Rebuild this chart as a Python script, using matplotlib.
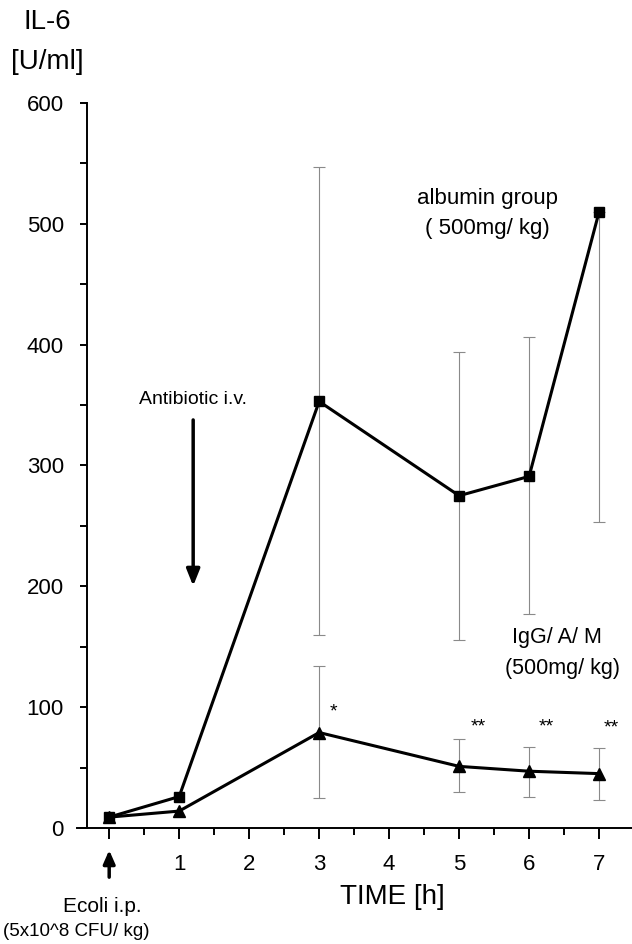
import numpy as np
from matplotlib import pyplot as plt
from matplotlib.ticker import MultipleLocator, FixedLocator

plt.rcParams['font.family'] = ['Liberation Sans', 'DejaVu Sans']

# data
hours = [0, 1, 3, 5, 6, 7]
albumin = [9, 26, 353, 275, 291, 510]
albumin_lo = [0, 0, 160, 156, 177, 253]
albumin_hi = [0, 0, 547, 394, 406, 510]
igg = [9, 14, 79, 51, 47, 45]
igg_lo = [0, 0, 25, 30, 26, 23]
igg_hi = [0, 0, 134, 74, 67, 66]
star_x = [3.2, 5.28, 6.25, 7.17]
star_y = [96, 84, 84, 83]
star_txt = ['*', '**', '**', '**']
xticks = [0, 1, 2, 3, 4, 5, 6, 7]
xticklabels = ['', '1', '2', '3', '4', '5', '6', '7']

fig = plt.figure(figsize=(6.32, 9.44), dpi=100)
ax = fig.add_axes([77/632, 1-828/944, 555/632, 725/944])

def errs(v, lo, hi):
    return [np.array(v) - np.array(lo), np.array(hi) - np.array(v)]

ax.errorbar(hours[2:], albumin[2:], yerr=[e[2:] for e in errs(albumin, albumin_lo, albumin_hi)],
            fmt='none', ecolor='#8a8a8a', elinewidth=0.8, capsize=4, capthick=0.8)
ax.errorbar(hours[2:], igg[2:], yerr=[e[2:] for e in errs(igg, igg_lo, igg_hi)],
            fmt='none', ecolor='#8a8a8a', elinewidth=0.8, capsize=4, capthick=0.8)
ax.plot(hours, albumin, 'k-', lw=2.2, marker='s', ms=7.5, zorder=3)
ax.plot(hours, igg, 'k-', lw=2.2, marker='^', ms=8, zorder=3)

for x, y, s in zip(star_x, star_y, star_txt):
    ax.text(x, y, s, ha='center', va='center', fontsize=14)

ax.text(5.4, 521, 'albumin group', ha='center', va='center', fontsize=16)
ax.text(5.4, 496, '( 500mg/ kg)', ha='center', va='center', fontsize=16)
ax.text(6.4, 158, 'IgG/ A/ M', ha='center', va='center', fontsize=15.5)
ax.text(6.48, 132, '(500mg/ kg)', ha='center', va='center', fontsize=15.5)
ax.text(1.2, 355, 'Antibiotic i.v.', ha='center', va='center', fontsize=14)
ax.annotate('', xy=(1.2, 198), xytext=(1.2, 340),
            arrowprops=dict(arrowstyle='-|>,head_length=1.0,head_width=0.4', color='k', lw=2.5))
ax.annotate('', xy=(0, -16), xytext=(0, -43), annotation_clip=False,
            arrowprops=dict(arrowstyle='-|>,head_length=0.8,head_width=0.35', color='k', lw=2.5))

ax.set_xlim(-0.46, 7.47)
ax.set_ylim(0, 600)
ax.spines['right'].set_visible(False)
ax.spines['top'].set_visible(False)
ax.spines['left'].set_position(('data', -0.31))
ax.spines['bottom'].set_position(('data', 0))
ax.spines['left'].set_linewidth(1.4)
ax.spines['bottom'].set_linewidth(1.4)

ax.xaxis.set_major_locator(FixedLocator(xticks))
ax.set_xticklabels(xticklabels)
ax.xaxis.set_minor_locator(FixedLocator(np.arange(0.5, 7, 1.0)))
ax.yaxis.set_major_locator(MultipleLocator(100))
ax.yaxis.set_minor_locator(MultipleLocator(50))
ax.tick_params(axis='x', which='major', length=8, width=1.4, pad=11, labelsize=16)
ax.tick_params(axis='x', which='minor', length=5, width=1.4)
ax.tick_params(axis='y', which='both', length=5, width=1.4, pad=12, labelsize=16)

fig.text(47/632, 1-22/944, 'IL-6', ha='center', va='center', fontsize=20)
fig.text(47/632, 1-62/944, '[U/ml]', ha='center', va='center', fontsize=20)
fig.text(392/632, 1-897/944, 'TIME [h]', ha='center', va='center', fontsize=20)
fig.text(102/632, 1-906/944, 'Ecoli i.p.', ha='center', va='center', fontsize=15)
fig.text(76/632, 1-932/944, '(5x10^8 CFU/ kg)', ha='center', va='center', fontsize=13.5)

fig.savefig('out.png', dpi=100)
